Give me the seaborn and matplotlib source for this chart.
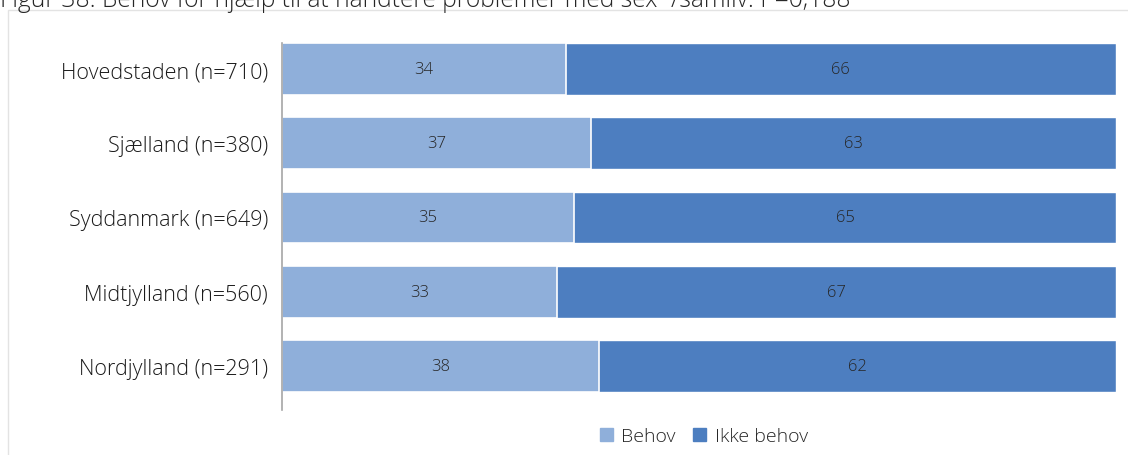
import matplotlib.pyplot as plt
import matplotlib.patches as mpatches
import seaborn as sns
import pandas as pd

regioner = ['Hovedstaden (n=710)', 'Sjælland (n=380)', 'Syddanmark (n=649)',
            'Midtjylland (n=560)', 'Nordjylland (n=291)']
behov = [34, 37, 35, 33, 38]
ikke_behov = [66, 63, 65, 67, 62]
serier = ['Behov', 'Ikke behov']
farver = ['#8FAFDA', '#4D7EC0']
titel = 'Figur 38: Behov for hjælp til at håndtere problemer med sex*/samliv: P=0,188'

df = pd.DataFrame({'region': regioner, 'behov': behov, 'ikke': ikke_behov})
df['total'] = df['behov'] + df['ikke']

sns.set_style('white')
plt.rcParams['font.family'] = ['Open Sans', 'DejaVu Sans']

fig = plt.figure(figsize=(11.28, 4.56), dpi=100)
ax = fig.add_axes([282 / 1128, 1 - 404 / 456, (1116 - 282) / 1128, 371 / 456])

# stablet: hele bjælken i mørk, "Behov" ovenpå i lys
sns.barplot(data=df, x='total', y='region', orient='h', color=farver[1],
            width=0.7, saturation=1, ax=ax)
sns.barplot(data=df, x='behov', y='region', orient='h', color=farver[0],
            width=0.7, saturation=1, edgecolor='white', linewidth=1.2, ax=ax)

for i, row in df.iterrows():
    ax.text(row['behov'] / 2, i, str(row['behov']), ha='center', va='center',
            fontsize=12, fontweight='light', color='#262626')
    ax.text(row['behov'] + row['ikke'] / 2, i, str(row['ikke']), ha='center',
            va='center', fontsize=12, fontweight='light', color='#262626')

ax.set_xlim(0, 100)
ax.set_ylim(len(regioner) - 0.5, -0.5)
ax.set_xlabel('')
ax.set_ylabel('')
ax.set_xticks([])
ax.tick_params(axis='y', length=0, labelsize=15.5, pad=10, labelcolor='#1a1a1a')
for lab in ax.get_yticklabels():
    lab.set_fontweight('light')
for s in ['top', 'right', 'bottom']:
    ax.spines[s].set_visible(False)
ax.spines['left'].set_color('#a6a6a6')
ax.spines['left'].set_linewidth(1.2)
ax.spines['left'].set_bounds(-0.35, 4.59)

# ramme om diagrammet
fig.add_artist(mpatches.Rectangle((8 / 1128, -0.1), 1.2, 1 - 11 / 456 + 0.1,
                                  transform=fig.transFigure, fill=False,
                                  edgecolor='#e3e3e3', linewidth=1))

fig.text(0.0, 1 - 7 / 456, titel, fontsize=17.7, fontweight='light', color='#262626',
         ha='left', va='baseline')

handles = [mpatches.Patch(color=c, label=l) for c, l in zip(farver, serier)]
fig.legend(handles=handles, loc='center', bbox_to_anchor=(704 / 1128, 1 - 437 / 456),
           ncol=2, frameon=False, handlelength=0.65, handleheight=0.65,
           handletextpad=0.45, columnspacing=0.9,
           prop={'size': 14, 'weight': 'light'})

fig.savefig('out.png', dpi=100)
